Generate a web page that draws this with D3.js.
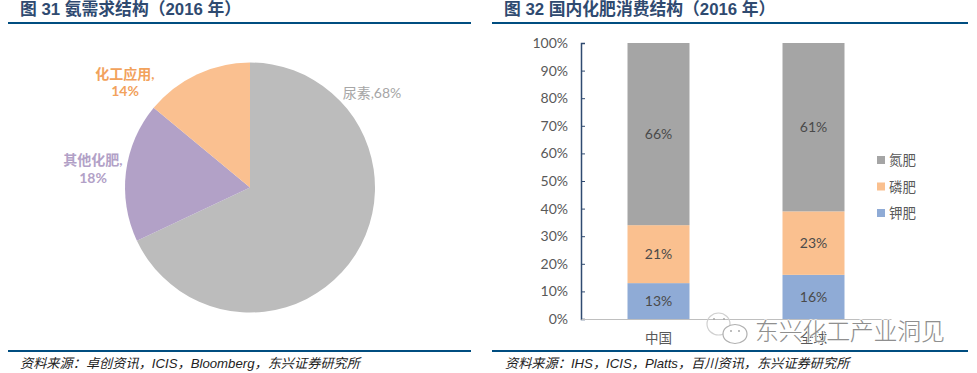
<!DOCTYPE html>
<html>
<head>
    <meta charset="utf-8" />
    <title>Fertilizer structure</title>
    <script src="https://cdn.jsdelivr.net/npm/d3@7/dist/d3.min.js"></script>
    <style>
        html, body { margin: 0; padding: 0; background: #fff; overflow: hidden; }
        svg { display: block; }
        text { font-family: Lato, "Noto Sans CJK SC", sans-serif; }
    </style>
</head>
<body>
    <script>
        // 图 31
        const pieNames = ['尿素', '其他化肥', '化工应用']
        const pieValues = [68, 18, 14]
        const pieColors = ['#bcbcbc', '#b2a1c7', '#fac090']
        const pieLabelColors = ['#a6a6a6', '#b2a1c7', '#f2a25c']

        // 图 32
        const countries = ['中国', '全球']
        const potash = [13, 16]
        const phosphate = [21, 23]
        const nitrogen = [66, 61]
        const yTicks = [0, 10, 20, 30, 40, 50, 60, 70, 80, 90, 100]
        const legendNames = ['氮肥', '磷肥', '钾肥']

        const titles = ['图 31 氨需求结构（2016 年）', '图 32 国内化肥消费结构（2016 年）']
        const sources = ['资料来源：卓创资讯，ICIS，Bloomberg，东兴证券研究所', '资料来源：IHS，ICIS，Platts，百川资讯，东兴证券研究所']

        const navy = '#004d80'
        const labelFont = 'Lato, "Noto Sans CJK SC", sans-serif'

        const svg = d3.select('body').append('svg').attr('width', 977).attr('height', 373)

        // header and footer of both panels
        const panels = [{ x1: 8, x2: 471, tx: 20, sx: 20 }, { x1: 492, x2: 968, tx: 504, sx: 505 }]
        panels.forEach((p, i) => {
            svg.append('text').attr('x', p.tx).attr('y', 15).attr('font-size', 16.8).attr('font-weight', 700)
                .style('font-family', '"Liberation Sans", "Noto Sans CJK SC", sans-serif')
                .attr('fill', '#2f4a70').text(titles[i])
            svg.append('line').attr('x1', p.x1).attr('x2', p.x2).attr('y1', 23).attr('y2', 23)
                .attr('stroke', navy).attr('stroke-width', 2)
            svg.append('line').attr('x1', p.x1).attr('x2', p.x2).attr('y1', 351).attr('y2', 351)
                .attr('stroke', navy).attr('stroke-width', 2)
            svg.append('text').attr('x', p.sx).attr('y', 368).attr('font-size', 13.2).attr('font-style', 'italic')
                .style('font-family', '"Liberation Sans", "Noto Sans CJK SC", sans-serif')
                .attr('fill', '#222').text(sources[i])
        })

        // pie
        const pie = d3.pie().sort(null)(pieValues)
        const arc = d3.arc().innerRadius(0).outerRadius(125)
        const pieG = svg.append('g').attr('transform', 'translate(250, 187.5)')
        pieG.selectAll('path').data(pie).join('path')
            .attr('d', arc)
            .attr('fill', (d, i) => pieColors[i])

        const pieLabels = [
            { x: 372, ys: [93], lines: [pieNames[0] + ',' + pieValues[0] + '%'] },
            { x: 93, ys: [160, 178], lines: [pieNames[1] + ',', pieValues[1] + '%'] },
            { x: 125, ys: [74, 91], lines: [pieNames[2] + ',', pieValues[2] + '%'] }
        ]
        pieLabels.forEach((l, i) => {
            l.lines.forEach((t, j) => {
                svg.append('text').attr('x', l.x).attr('y', l.ys[j] + 5).attr('text-anchor', 'middle')
                    .attr('font-size', 14).attr('font-weight', i == 0 ? 400 : 700)
                    .attr('fill', pieLabelColors[i]).text(t)
            })
        })

        // stacked bars
        const xScale = d3.scaleBand().domain(countries).range([581, 891]).paddingInner(0.6).paddingOuter(0.3)
        const yScale = d3.scaleLinear().domain([0, 100]).range([319, 43])

        const rows = countries.map((c, i) => ({ country: c, potash: potash[i], phosphate: phosphate[i], nitrogen: nitrogen[i] }))
        const keys = ['potash', 'phosphate', 'nitrogen']
        const barColors = { potash: '#8fabd6', phosphate: '#fac08f', nitrogen: '#a5a5a5' }
        const stack = d3.stack().keys(keys)(rows)

        const layers = svg.selectAll('g.layer').data(stack).join('g').classed('layer', true)
            .attr('fill', d => barColors[d.key])
        layers.selectAll('rect').data(d => d).join('rect')
            .attr('x', d => xScale(d.data.country))
            .attr('y', d => yScale(d[1]))
            .attr('width', xScale.bandwidth())
            .attr('height', d => yScale(d[0]) - yScale(d[1]))
        layers.selectAll('text').data(d => d).join('text')
            .attr('x', d => xScale(d.data.country) + xScale.bandwidth() / 2)
            .attr('y', d => (yScale(d[0]) + yScale(d[1])) / 2 + 5)
            .attr('text-anchor', 'middle').attr('font-size', 14).attr('fill', '#4a4a4a')
            .text(d => (d[1] - d[0]) + '%')

        const yAxis = d3.axisLeft(yScale).tickValues(yTicks).tickSize(-4).tickPadding(13).tickFormat(d => d + '%')
        const yG = svg.append('g').attr('transform', 'translate(581, 0)').call(yAxis)
        yG.select('.domain').attr('stroke', '#2f4a70').attr('stroke-width', 1.5)
        yG.selectAll('.tick line').attr('stroke', '#2f4a70')
        yG.selectAll('.tick text').attr('font-size', 14).attr('fill', '#595959')
            .style('font-family', labelFont)

        const xAxis = d3.axisBottom(xScale).tickSize(0).tickPadding(14)
        const xG = svg.append('g').attr('transform', 'translate(0, 319)').call(xAxis)
        xG.select('.domain').attr('stroke', '#bfbfbf')
        xG.selectAll('.tick text').attr('font-size', 13.5).attr('fill', '#595959')
            .style('font-family', labelFont)

        // legend
        const legendColors = [barColors.nitrogen, barColors.phosphate, barColors.potash]
        legendNames.forEach((n, i) => {
            const y = 160 + i * 26.5
            svg.append('rect').attr('x', 877).attr('y', y - 4).attr('width', 8).attr('height', 8).attr('fill', legendColors[i])
            svg.append('text').attr('x', 889).attr('y', y + 5).attr('font-size', 13.5).attr('fill', '#595959').text(n)
        })

        // watermark
        const wm = svg.append('g')
        wm.append('ellipse').attr('cx', 718.5).attr('cy', 324).attr('rx', 11.5).attr('ry', 11)
            .attr('fill', 'none').attr('stroke', '#d0d0d0').attr('stroke-width', 1.2)
        wm.append('ellipse').attr('cx', 735).attr('cy', 334).attr('rx', 12).attr('ry', 9.5)
            .attr('fill', '#fff').attr('stroke', '#b0b0b0').attr('stroke-width', 1.2)
        wm.selectAll('circle').data([[714, 319], [724, 319], [731, 331], [739, 331]]).join('circle')
            .attr('cx', d => d[0]).attr('cy', d => d[1]).attr('r', 1).attr('fill', '#a8a8a8')
        wm.append('text').attr('x', 755).attr('y', 340).attr('font-size', 24)
            .attr('fill', '#8f8f8f').attr('stroke', '#fff').attr('stroke-width', 1.2).attr('paint-order', 'stroke')
            .attr('font-weight', 300)
            .attr('textLength', 190).text('东兴化工产业洞见')
    </script>
</body>
</html>
